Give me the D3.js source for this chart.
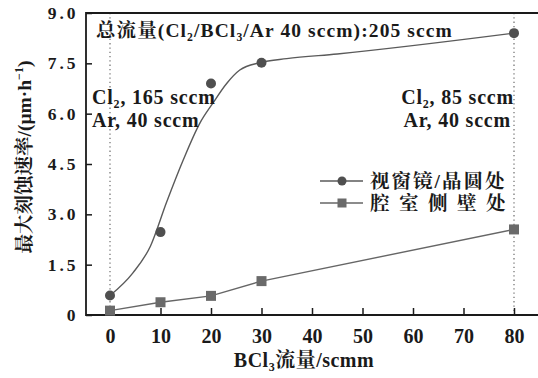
<!DOCTYPE html>
<html>
<head>
<meta charset="utf-8">
<script src="https://cdn.jsdelivr.net/npm/d3@7"></script>
<style>
  body { margin: 0; background: #fff; }
  svg { display: block; }
</style>
</head>
<body>
<svg id="chart" width="538" height="378"></svg>
<script>
// BCl3 flow (sccm) and measured maximum etch rate (μm·h⁻¹)
const flows = [0, 10, 20, 30, 80];
const windowRate = [0.58, 2.47, 6.9, 7.52, 8.4];   // 视窗镜/晶圆处
const wallRate = [0.13, 0.38, 0.57, 1.01, 2.55];   // 腔室侧壁处
// Fitted trend curve for the window/wafer series
const trendX = [0, 4.5, 8, 11.2, 14.5, 17.8, 20.4, 23.1, 25.7, 29.7, 35, 45, 80];
const trendY = [0.58, 1.25, 2.05, 3.36, 4.62, 5.72, 6.32, 6.9, 7.3, 7.52, 7.64, 7.78, 8.4];
const xTicks = [0, 10, 20, 30, 40, 50, 60, 70, 80];
const yTicks = [0, 1.5, 3.0, 4.5, 6.0, 7.5, 9.0];
const yTickLabels = ["0", "1.5", "3.0", "4.5", "6.0", "7.5", "9.0"];
const seriesNames = ["视窗镜/晶圆处", "腔室侧壁处"];

const FONT = '"Liberation Serif", "Noto Serif CJK SC", "Noto Sans CJK SC", serif';
const INK = "#1a1a1a";
const font = sel => sel.style("font-family", FONT).style("font-weight", "bold").style("fill", INK);

const svg = d3.select("#chart");
const frame = { left: 86, right: 540, top: 13, bottom: 315 };

const x = d3.scaleLinear().domain([0, 80]).range([110, 514]);
const y = d3.scaleLinear().domain([0, 9]).range([frame.bottom, frame.top]);

// dotted guides at the two end conditions
svg.selectAll("line.guide").data([0, 80]).join("line")
  .attr("class", "guide")
  .attr("x1", d => x(d)).attr("x2", d => x(d))
  .attr("y1", frame.top).attr("y2", frame.bottom)
  .attr("stroke", "#777").attr("stroke-width", 1.3)
  .attr("stroke-dasharray", "1.3,3");

// axes with inward ticks
const xAxis = d3.axisBottom(x).tickValues(xTicks).tickSize(-7).tickPadding(14).tickSizeOuter(0);
const gx = svg.append("g").attr("transform", `translate(0,${frame.bottom})`).call(xAxis);
gx.select(".domain").remove();
gx.selectAll(".tick line").attr("stroke", INK).attr("stroke-width", 1.5);
gx.selectAll(".tick text").attr("font-size", 20).attr("dy", "0.71em").call(font);

const yAxis = d3.axisLeft(y).tickValues(yTicks).tickFormat((d, i) => yTickLabels[i])
  .tickSize(-6).tickPadding(7.5).tickSizeOuter(0);
const gy = svg.append("g").attr("transform", `translate(${frame.left},0)`).call(yAxis);
gy.select(".domain").remove();
gy.selectAll(".tick line").attr("stroke", INK).attr("stroke-width", 1.5);
gy.selectAll(".tick text").attr("font-size", 17.5).attr("letter-spacing", 3).call(font);

// frame lines: left, bottom, top
svg.append("path")
  .attr("d", `M${frame.right},${frame.top}H${frame.left}V${frame.bottom}H${frame.right}`)
  .attr("fill", "none").attr("stroke", INK).attr("stroke-width", 1.8);

// trend curve
const trend = trendX.map((v, i) => [v, trendY[i]]);
svg.append("path")
  .datum(trend)
  .attr("d", d3.line().x(d => x(d[0])).y(d => y(d[1])).curve(d3.curveMonotoneX))
  .attr("fill", "none").attr("stroke", "#5a5a5a").attr("stroke-width", 1.4);

// wall series line
const wall = flows.map((v, i) => [v, wallRate[i]]);
svg.append("path")
  .datum(wall)
  .attr("d", d3.line().x(d => x(d[0])).y(d => y(d[1])))
  .attr("fill", "none").attr("stroke", "#666").attr("stroke-width", 1.4);

// markers
const win = flows.map((v, i) => [v, windowRate[i]]);
svg.selectAll("circle.win").data(win).join("circle")
  .attr("class", "win")
  .attr("cx", d => x(d[0])).attr("cy", d => y(d[1])).attr("r", 5)
  .attr("fill", "#4f4f4f");
svg.selectAll("rect.wall").data(wall).join("rect")
  .attr("class", "wall")
  .attr("x", d => x(d[0]) - 5).attr("y", d => y(d[1]) - 5)
  .attr("width", 10).attr("height", 10)
  .attr("fill", "#6a6a6a");

// text with subscripts
function richText(sel, parts, size, spacing) {
  sel.attr("font-size", size).attr("letter-spacing", spacing || 0).call(font);
  parts.forEach(p => {
    if (p.sub) {
      sel.append("tspan").attr("font-size", size * 0.6).attr("dy", size * 0.2).text(p.sub);
    } else {
      const t = sel.append("tspan").attr("font-size", size).text(p.t);
      if (p.after) t.attr("dy", -size * 0.2);
    }
  });
}

const title = svg.append("text").attr("x", 96).attr("y", 37);
richText(title, [{ t: "总流量(Cl" }, { sub: "2" }, { t: "/BCl", after: true }, { sub: "3" }, { t: "/Ar 40 sccm):205 sccm", after: true }], 19.5, 1.1);

const leftNote1 = svg.append("text").attr("x", 92).attr("y", 104);
richText(leftNote1, [{ t: "Cl" }, { sub: "2" }, { t: ", 165 sccm", after: true }], 20, 0.8);
svg.append("text").attr("x", 92).attr("y", 127).attr("font-size", 20).attr("letter-spacing", 0.8)
  .call(font).text("Ar, 40 sccm");

const rightNote1 = svg.append("text").attr("x", 514).attr("y", 104).attr("text-anchor", "end");
richText(rightNote1, [{ t: "Cl" }, { sub: "2" }, { t: ", 85 sccm", after: true }], 20, 0.8);
svg.append("text").attr("x", 511).attr("y", 127).attr("text-anchor", "end").attr("font-size", 20)
  .attr("letter-spacing", 0.8).call(font).text("Ar, 40 sccm");

// legend
const legend = svg.append("g");
[0, 1].forEach(i => {
  const ly = 181 + i * 22;
  legend.append("line").attr("x1", 320).attr("x2", 363).attr("y1", ly).attr("y2", ly)
    .attr("stroke", i === 0 ? "#5a5a5a" : "#666").attr("stroke-width", 1.4);
  if (i === 0) {
    legend.append("circle").attr("cx", 342).attr("cy", ly).attr("r", 4.5).attr("fill", "#4f4f4f");
  } else {
    legend.append("rect").attr("x", 337.5).attr("y", ly - 4.5).attr("width", 9).attr("height", 9).attr("fill", "#6a6a6a");
  }
  legend.append("text").attr("x", 370).attr("y", ly + 7).attr("font-size", 19.5).call(font)
    .attr("letter-spacing", i === 0 ? 2 : 9.5).text(seriesNames[i]);
});

// axis titles
const xTitle = svg.append("text").attr("x", 304).attr("y", 367).attr("text-anchor", "middle");
richText(xTitle, [{ t: "BCl" }, { sub: "3" }, { t: "流量/scmm", after: true }], 20, 0.5);

const yTitle = svg.append("text").attr("transform", "translate(31,157) rotate(-90)")
  .attr("text-anchor", "middle").attr("font-size", 19.5).call(font);
yTitle.append("tspan").attr("font-size", 19.5).text("最大刻蚀速率/(μm·h");
yTitle.append("tspan").attr("font-size", 12).attr("dy", -8).text("−1");
yTitle.append("tspan").attr("font-size", 19.5).attr("dy", 8).text(")");
</script>
</body>
</html>
